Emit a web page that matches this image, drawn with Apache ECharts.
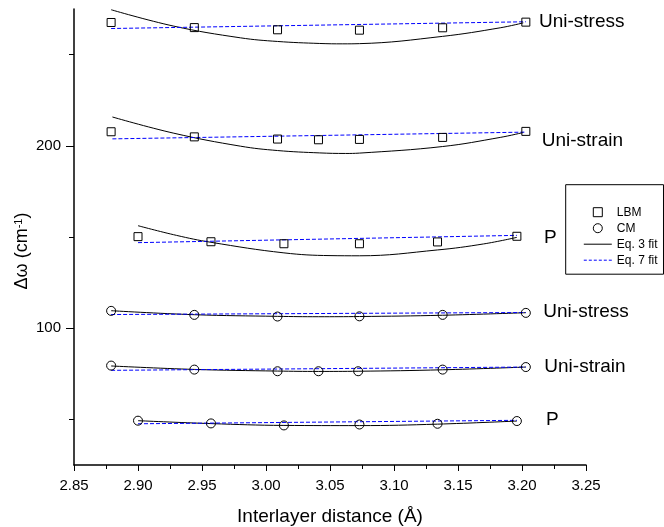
<!DOCTYPE html>
<html>
<head>
<meta charset="utf-8">
<script src="https://cdn.jsdelivr.net/npm/echarts@6/dist/echarts.min.js"></script>
<style>
    html, body { margin: 0; padding: 0; background: #fff; }
    #main { width: 664px; height: 527px; }
</style>
</head>
<body>
<div id="main"></div>
<script>
// LBM points (squares)
var lbmStressX = [2.879, 2.944, 3.009, 3.073, 3.138, 3.203];
var lbmStressY = [267.6, 264.8, 263.6, 263.4, 264.7, 267.8];
var lbmStrainX = [2.879, 2.944, 3.009, 3.041, 3.073, 3.138, 3.203];
var lbmStrainY = [207.7, 204.9, 203.7, 203.3, 203.5, 204.6, 207.9];
var lbmPX = [2.900, 2.957, 3.014, 3.073, 3.134, 3.196];
var lbmPY = [150.2, 147.4, 146.3, 146.3, 147.3, 150.4];

// CM points (circles)
var cmStressX = [2.879, 2.944, 3.009, 3.073, 3.138, 3.203];
var cmStressY = [109.5, 107.3, 106.4, 106.5, 107.3, 108.4];
var cmStrainX = [2.879, 2.944, 3.009, 3.041, 3.072, 3.138, 3.203];
var cmStrainY = [79.5, 77.3, 76.4, 76.4, 76.4, 77.3, 78.7];
var cmPX = [2.900, 2.957, 3.014, 3.073, 3.134, 3.196];
var cmPY = [49.3, 47.8, 46.7, 47.2, 47.6, 49.1];

// Eq. 3 fit curves
var fit3LbmStressX = [2.879, 2.928, 2.980, 3.009, 3.042, 3.060, 3.073, 3.138, 3.183, 3.201];
var fit3LbmStressY = [274.6, 265.6, 259.2, 257.2, 256.1, 255.9, 256.0, 260.0, 264.7, 267.4];
var fit3LbmStrainX = [2.880, 2.928, 2.980, 3.009, 3.042, 3.062, 3.073, 3.138, 3.183, 3.201];
var fit3LbmStrainY = [215.8, 206.9, 199.8, 197.4, 196.1, 195.8, 196.0, 199.6, 204.6, 207.3];
var fit3LbmPX = [2.900, 2.930, 2.957, 3.014, 3.050, 3.073, 3.134, 3.170, 3.196];
var fit3LbmPY = [156.2, 150.9, 147.1, 141.3, 139.8, 139.7, 142.9, 146.2, 149.8];
var fit3CmStressX = [2.879, 2.944, 3.009, 3.041, 3.073, 3.138, 3.203];
var fit3CmStressY = [109.6, 107.4, 106.5, 106.3, 106.4, 107.1, 108.5];
var fit3CmStrainX = [2.879, 2.944, 3.009, 3.041, 3.072, 3.138, 3.203];
var fit3CmStrainY = [79.3, 77.4, 76.5, 76.3, 76.4, 77.2, 78.7];
var fit3CmPX = [2.900, 2.957, 3.014, 3.073, 3.134, 3.196];
var fit3CmPY = [49.3, 47.7, 46.7, 46.6, 47.4, 49.1];

// Eq. 7 fit lines (end points)
var fit7LbmStressX = [2.879, 3.203], fit7LbmStressY = [264.3, 268.0];
var fit7LbmStrainX = [2.880, 3.203], fit7LbmStrainY = [203.8, 207.5];
var fit7LbmPX = [2.900, 3.196], fit7LbmPY = [146.9, 150.9];
var fit7CmStressX = [2.879, 3.203], fit7CmStressY = [107.5, 108.6];
var fit7CmStrainX = [2.879, 3.203], fit7CmStrainY = [76.9, 78.7];
var fit7CmPX = [2.900, 3.196], fit7CmPY = [47.6, 49.5];

// y axis ticks
var yLabelTicks = [100, 200];
var yMinorTicks = [50, 150, 250];

var FONT = '"Liberation Sans", Arial, sans-serif';
var SQUARE = 'path://M0,0L10,0L10,10L0,10Z';

function zip(xs, ys) {
    return xs.map(function (x, i) { return [x, ys[i]]; });
}

function pts(name, symbol, xs, ys) {
    return {
        name: name,
        type: 'scatter',
        symbol: symbol,
        symbolSize: symbol === 'rect' ? 8 : 9,
        z: 5,
        itemStyle: { color: 'rgba(255,255,255,0)', borderColor: '#000', borderWidth: 1, opacity: 1 },
        data: zip(xs, ys)
    };
}

function fit3(xs, ys) {
    return {
        name: 'Eq. 3 fit',
        type: 'line',
        smooth: 0.4,
        symbol: 'none',
        z: 3,
        lineStyle: { color: '#000', width: 1 },
        itemStyle: { color: '#000' },
        data: zip(xs, ys)
    };
}

function fit7(xs, ys) {
    return {
        name: 'Eq. 7 fit',
        type: 'line',
        symbol: 'none',
        z: 4,
        lineStyle: { color: '#0000ff', width: 1, type: [4, 2] },
        itemStyle: { color: '#0000ff' },
        data: zip(xs, ys)
    };
}

function note(text, x, y) {
    return {
        type: 'text', x: x, y: y, z: 10,
        style: { text: text, fill: '#000', font: '19px ' + FONT, align: 'left', verticalAlign: 'middle' }
    };
}

var chart = echarts.init(document.getElementById('main'));
var option = {
    animation: false,
    backgroundColor: '#fff',
    grid: { left: 74, right: 78, top: 9, bottom: 62, containLabel: false, outerBoundsMode: 'none' },
    legend: {
        left: 565.7,
        top: 184.7,
        orient: 'vertical',
        selectedMode: false,
        symbolKeepAspect: true,
        borderColor: '#000',
        borderWidth: 1,
        padding: [21.5, 6, 8, 17.6],
        itemWidth: 28,
        itemHeight: 9,
        itemGap: 4,
        textStyle: { fontSize: 12, color: '#000', fontFamily: FONT },
        data: [
            { name: 'LBM', icon: SQUARE, itemStyle: { color: 'rgba(255,255,255,0)', borderColor: '#000', borderWidth: 1 } },
            { name: 'CM', icon: 'circle', itemStyle: { color: 'rgba(255,255,255,0)', borderColor: '#000', borderWidth: 1 } },
            { name: 'Eq. 3 fit', itemStyle: { opacity: 0 }, lineStyle: { color: '#000', width: 1, type: 'solid' } },
            { name: 'Eq. 7 fit', itemStyle: { opacity: 0 }, lineStyle: { color: '#0000ff', width: 1, type: [3, 2] } }
        ]
    },
    xAxis: {
        type: 'value',
        min: 2.85,
        max: 3.25,
        interval: 0.05,
        name: 'Interlayer distance (Å)',
        nameLocation: 'middle',
        nameGap: 42,
        nameTextStyle: { fontSize: 19, color: '#000', fontFamily: FONT },
        axisLine: { onZero: false, lineStyle: { color: '#000', width: 1.5 } },
        axisTick: { length: 6, lineStyle: { color: '#000', width: 1 } },
        minorTick: { show: true, splitNumber: 2, length: 4, lineStyle: { color: '#000', width: 1 } },
        splitLine: { show: false },
        axisLabel: {
            fontSize: 15, color: '#000', fontFamily: FONT, margin: 13,
            formatter: function (v) { return v.toFixed(2); }
        }
    },
    yAxis: [
        {
            type: 'value',
            min: 25,
            max: 275,
            position: 'left',
            axisLine: { show: true, onZero: false, lineStyle: { color: '#000', width: 1.5 } },
            axisTick: { show: true, length: 8, customValues: yLabelTicks, lineStyle: { color: '#000', width: 1 } },
            axisLabel: { fontSize: 15, color: '#000', fontFamily: FONT, margin: 13, customValues: yLabelTicks },
            splitLine: { show: false }
        },
        {
            type: 'value',
            min: 25,
            max: 275,
            position: 'left',
            axisLine: { show: false, onZero: false },
            axisTick: { show: true, length: 5, customValues: yMinorTicks, lineStyle: { color: '#000', width: 1 } },
            axisLabel: { show: false },
            splitLine: { show: false }
        }
    ],
    graphic: [
        {
            type: 'text', x: 22, y: 251, rotation: Math.PI / 2, z: 10,
            style: {
                text: 'Δω (cm{sup|-1})',
                fill: '#000',
                font: '18px ' + FONT,
                align: 'center',
                verticalAlign: 'middle',
                rich: { sup: { fontSize: 11, fontFamily: FONT, fill: '#000', verticalAlign: 'top', padding: [0, 0, 7, 0] } }
            }
        },
        note('Uni-stress', 539, 22),
        note('Uni-strain', 541.7, 141),
        note('P', 544, 237.5),
        note('Uni-stress', 543.3, 311.7),
        note('Uni-strain', 544.3, 366.7),
        note('P', 546, 420)
    ],
    series: [
        fit3(fit3LbmStressX, fit3LbmStressY),
        fit3(fit3LbmStrainX, fit3LbmStrainY),
        fit3(fit3LbmPX, fit3LbmPY),
        fit3(fit3CmStressX, fit3CmStressY),
        fit3(fit3CmStrainX, fit3CmStrainY),
        fit3(fit3CmPX, fit3CmPY),
        fit7(fit7LbmStressX, fit7LbmStressY),
        fit7(fit7LbmStrainX, fit7LbmStrainY),
        fit7(fit7LbmPX, fit7LbmPY),
        fit7(fit7CmStressX, fit7CmStressY),
        fit7(fit7CmStrainX, fit7CmStrainY),
        fit7(fit7CmPX, fit7CmPY),
        pts('LBM', 'rect', lbmStressX, lbmStressY),
        pts('LBM', 'rect', lbmStrainX, lbmStrainY),
        pts('LBM', 'rect', lbmPX, lbmPY),
        pts('CM', 'circle', cmStressX, cmStressY),
        pts('CM', 'circle', cmStrainX, cmStrainY),
        pts('CM', 'circle', cmPX, cmPY)
    ]
};
chart.setOption(option);
window.addEventListener('resize', function () {
    chart.resize();
});
</script>
</body>
</html>
